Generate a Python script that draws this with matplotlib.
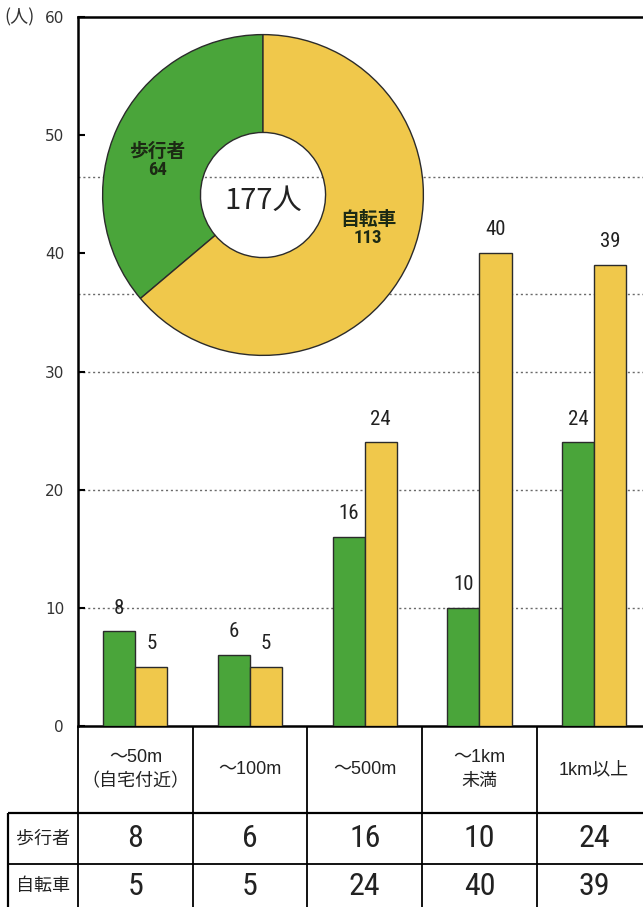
import matplotlib.pyplot as plt
import numpy as np

plt.rcParams['font.family'] = ['Liberation Sans', 'Noto Sans CJK JP']

# data
categories = ['～50m\n（自宅付近）', '～100m', '～500m', '～1km\n未満', '1km以上']
series_names = ['歩行者', '自転車']
pedestrians = [8, 6, 16, 10, 24]
bicycles = [5, 5, 24, 40, 39]
totals = [64, 113]
total_label = '177人'
y_ticks = [0, 10, 20, 30, 40, 50, 60]
grid_levels = [10, 20, 30]
bleed_levels = [36.6, 46.5]   # dotted lines showing through the scan

GREEN = '#4aa53a'
YELLOW = '#f0c84b'
EDGE = '#2b2b2b'
NARROW = ['Roboto Condensed', 'DejaVu Sans', 'Noto Sans CJK JP']

W, H = 643, 907
fig = plt.figure(figsize=(W / 100, H / 100), dpi=100)

# bar chart area (pixel layout of the reference)
left, top, base, step = 78, 17, 726, 114.7
ax = fig.add_axes([left / W, 1 - base / H, len(categories) * step / W, (base - top) / H])
x = np.arange(len(categories))
bw = 0.28
ax.bar(x - bw / 2, pedestrians, bw, color=GREEN, edgecolor=EDGE, linewidth=1, zorder=3)
ax.bar(x + bw / 2, bicycles, bw, color=YELLOW, edgecolor=EDGE, linewidth=1, zorder=3)
for xi, p, b in zip(x, pedestrians, bicycles):
    ax.annotate(str(p), (xi - bw / 2, p), xytext=(0, 10), textcoords='offset points',
                ha='center', va='bottom', fontsize=15, family=NARROW,
                fontstretch='condensed', color='#222')
    ax.annotate(str(b), (xi + bw / 2, b), xytext=(0, 10), textcoords='offset points',
                ha='center', va='bottom', fontsize=15, family=NARROW,
                fontstretch='condensed', color='#222')

for lv in grid_levels + bleed_levels:
    ax.axhline(lv, color='#6a6a6a', lw=1, ls=(0, (1.5, 2)), zorder=1)

ax.set_xlim(-0.5, len(categories) - 0.5)
ax.set_ylim(0, 60)
ax.set_xticks([])
ax.set_yticks(y_ticks)
ax.set_yticklabels([str(t) for t in y_ticks], family='DejaVu Sans', fontsize=11, color='#333')
ax.tick_params(axis='y', direction='in', length=5, width=1.5, pad=10)
ax.spines['right'].set_visible(False)
for s in ['left', 'top', 'bottom']:
    ax.spines[s].set_linewidth(1.8)
fig.text(4 / W, 1 - 17 / H, '(人)', family='Noto Sans CJK JP', fontsize=13,
         color='#333', ha='left', va='center')

# donut inset
cx, cy, r = 263, 195, 162
dax = fig.add_axes([(cx - r) / W, 1 - (cy + r) / H, 2 * r / W, 2 * r / H])
wedges, _ = dax.pie(totals, colors=[GREEN, YELLOW], startangle=90, counterclock=True,
                    radius=1, wedgeprops=dict(width=0.61, edgecolor=EDGE, linewidth=1))
dax.set_xlim(-1.01, 1.01)
dax.set_ylim(-1.01, 1.01)
for w, name, val in zip(wedges, series_names, totals):
    th = np.deg2rad((w.theta1 + w.theta2) / 2 + 7)
    dax.text(0.69 * np.cos(th), 0.69 * np.sin(th), f'{name}\n{val}', ha='center', va='center',
             fontsize=13.5, fontweight='bold', family=NARROW, fontstretch='condensed',
             color='#1c2a14', linespacing=1.0)
dax.text(0, -0.04, total_label, ha='center', va='center', fontsize=21,
         family='Noto Sans CJK JP', color='#222')

# table below the chart
row1, row2 = 813, 864
tab = fig.add_axes([left / W, 0, len(categories) * step / W, (H - base) / H])
tab.set_xlim(ax.get_xlim())
tab.set_ylim(H, base)
tab.axis('off')
edges = np.arange(len(categories) + 1) - 0.5
head_left = -0.5 - (left - 8) / step
tab.vlines(edges, base, H, color='k', lw=1.3, clip_on=False)
tab.vlines(head_left, row1, H, color='k', lw=1.6, clip_on=False)
tab.hlines([row1], head_left, edges[-1], color='k', lw=1.6, clip_on=False)
tab.hlines([row2], head_left, edges[-1], color='k', lw=1.3, clip_on=False)

for xi, c in zip(x, categories):
    tab.text(xi, (base + row1) / 2, c, ha='center', va='center', fontsize=13,
             linespacing=1.5, color='#222', clip_on=False)
row_mid = [(row1 + row2) / 2, (row2 + H) / 2 + 1]
for yy, name, vals in zip(row_mid, series_names, [pedestrians, bicycles]):
    tab.text((head_left - 0.5) / 2, yy, name, ha='center', va='center', fontsize=13,
             family='Noto Sans CJK JP', color='#222', clip_on=False)
    for xi, v in zip(x, vals):
        tab.text(xi, yy, str(v), ha='center', va='center', fontsize=23,
                 family=NARROW, fontstretch='condensed', color='#222', clip_on=False)

fig.savefig('out.png', dpi=100)
